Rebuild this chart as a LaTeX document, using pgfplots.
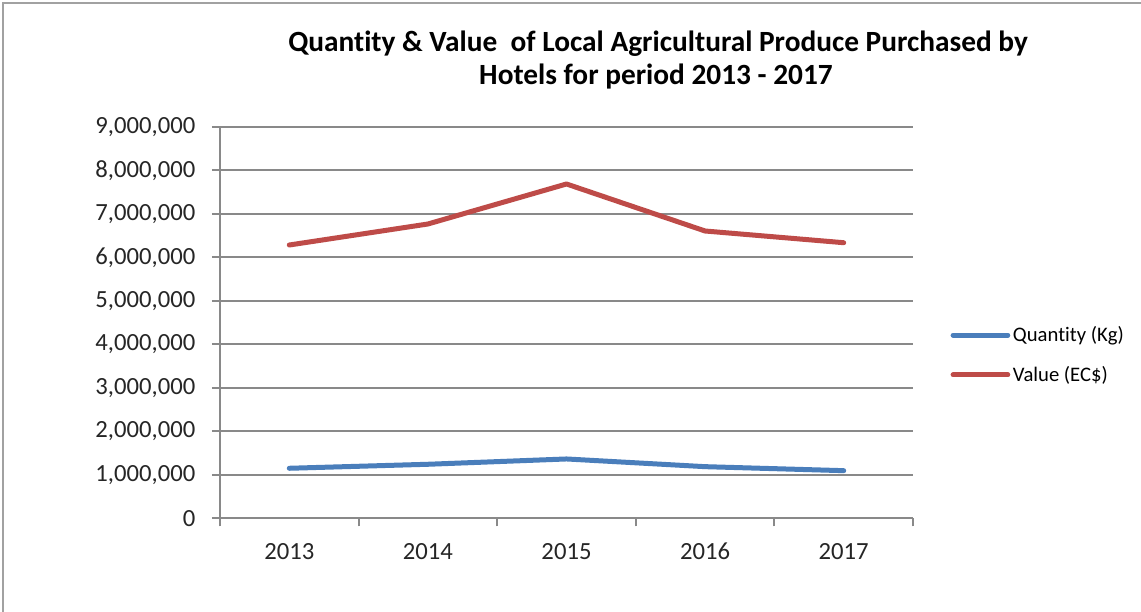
\documentclass[border=0pt]{standalone}
\usepackage{pgfplots}
\pgfplotsset{compat=1.18}
\usepackage{fontspec}
\setmainfont{Carlito}[Ligatures=NoCommon]
\definecolor{qblue}{HTML}{4A7EBB}
\definecolor{vred}{HTML}{BE4B48}
\definecolor{gridgray}{HTML}{898989}
\begin{document}
\begin{tikzpicture}
\useasboundingbox (0,0) rectangle (855.75pt,458.25pt);
\fill[white] (0,0) rectangle (855.75pt,458.25pt);
\draw[gridgray!80, line width=1.5pt] (2.25pt,-20pt) -- (2.25pt,456pt) -- (880pt,456pt);
\node[anchor=base, font=\fontsize{22}{26}\selectfont\bfseries] at (493.5pt,419.25pt) {Quantity \& Value\ \ of Local Agricultural Produce Purchased by};
\node[anchor=base, font=\fontsize{22}{26}\selectfont\bfseries] at (492pt,394.5pt) {Hotels for period 2013 - 2017};
\begin{axis}[
 at={(165pt,69.4pt)}, anchor=south west, scale only axis,
 width=519.75pt, height=293.6pt,
 xmin=-0.5, xmax=4.5, ymin=0, ymax=9000000,
 xtick={0,1,2,3,4}, xticklabels={2013,2014,2015,2016,2017},
 major x tick style={draw=none},
 minor xtick={-0.5,0.5,1.5,2.5,3.5,4.5},
 ytick={0,1000000,2000000,3000000,4000000,5000000,6000000,7000000,8000000,9000000},
 scaled y ticks=false,
 /pgf/number format/assume math mode=true,
 ymajorgrids, grid style={gridgray, line width=1.5pt},
 axis x line*=bottom, axis y line*=left,
 axis line style={gridgray, line width=1.5pt, -},
 tick style={gridgray, line width=1.5pt},
 tick align=outside, major tick length=6pt, minor tick length=6pt,
 ticklabel style={font=\fontsize{18.5}{18.5}\selectfont, text=black!85},
 yticklabel style={xshift=-9pt, /pgf/number format/.cd, fixed, 1000 sep={,}},
 xticklabel style={text height=12pt, text depth=0pt, yshift=-9pt},
 legend style={at={(1,0.4176)}, anchor=west, xshift=28pt, draw=none, fill=none, inner sep=0pt,
   font=\fontsize{15.5}{18}\selectfont, row sep=13pt},
 legend cell align=left,
 legend image code/.code={\draw[#1, line cap=round] (0pt,0pt) -- (41pt,0pt);},
 clip=false,
]
\addplot[qblue, line width=3.75pt, line join=round, line cap=round] coordinates {(0,1154000) (1,1246000) (2,1368000) (3,1191000) (4,1099000)};
\addlegendentry{Quantity (Kg)}
\addplot[vred, line width=3.75pt, line join=round, line cap=round] coordinates {(0,6287000) (1,6770000) (2,7690000) (3,6609000) (4,6340000)};
\addlegendentry{Value (EC\$)}
\end{axis}
\end{tikzpicture}
\end{document}
